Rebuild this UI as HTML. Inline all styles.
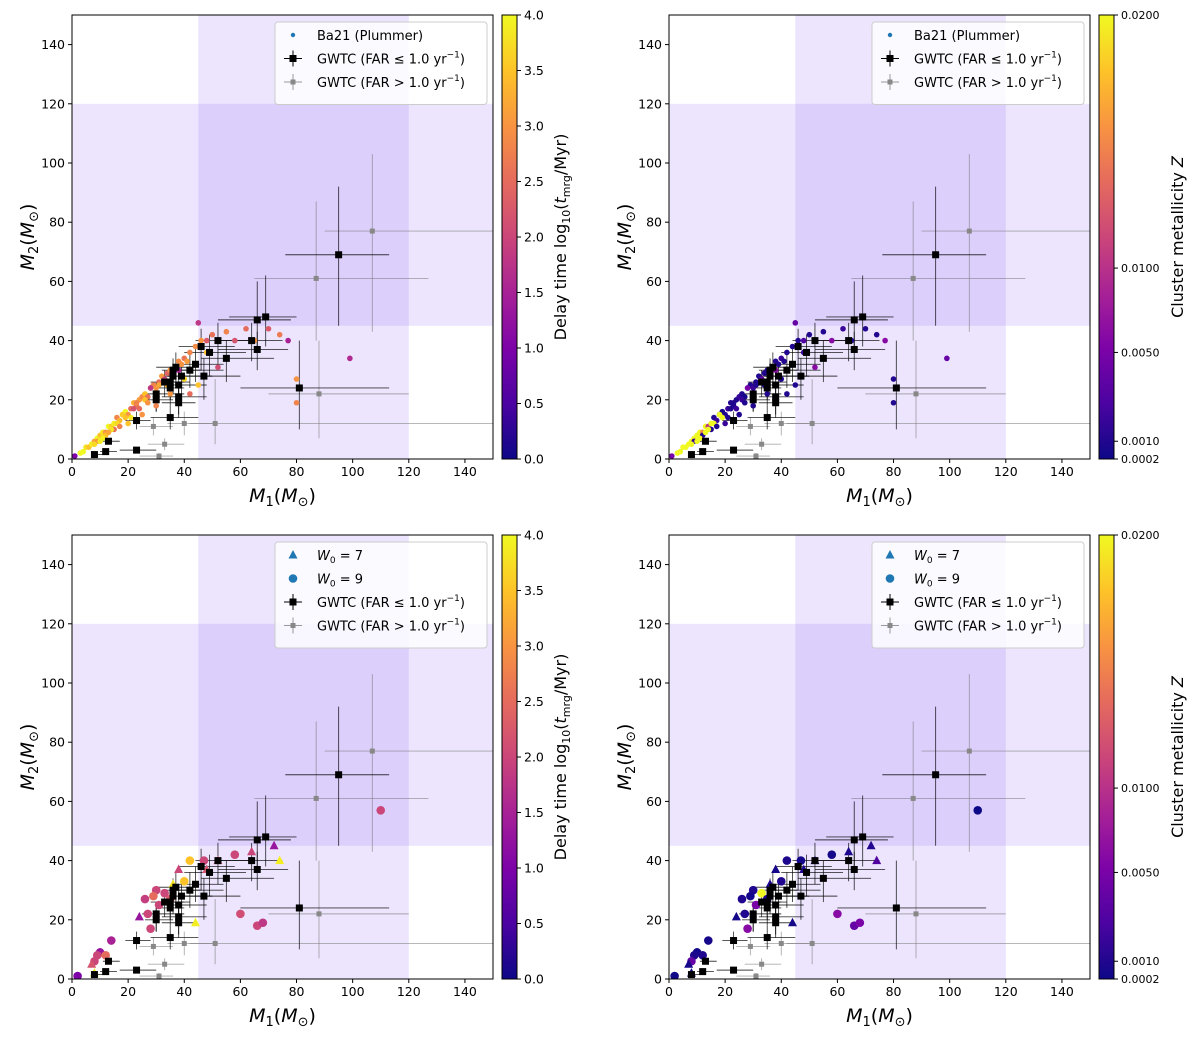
<!DOCTYPE html>
<html><head><meta charset="utf-8"><style>
body{margin:0;background:#fff}
svg{display:block;font-family:"DejaVu Sans","Liberation Sans",sans-serif}
</style></head><body>
<svg id="fig" width="1200" height="1039" viewBox="0 0 1200 1039" xmlns="http://www.w3.org/2000/svg"></svg>
<script>
// ---- data ----
const xTicks=[0,20,40,60,80,100,120,140];
const yTicks=[0,20,40,60,80,100,120,140];
const gwBlack=[[95,76,113,69,45,92],[69,56,80,48,38,62],[66,52,78,47,36,60],[81,60,113,24,10,40],[64,52,75,40,33,46],[66,52,77,37,30,43],[52,44,64,40,32,46],[46,38,58,38,30,44],[49,40,62,36,28,42],[55,46,72,34,26,40],[44,38,54,32,26,38],[47,38,60,28,20,34],[42,36,54,30,24,36],[39,34,50,28,22,33],[36,32,46,30,24,34],[35,30,42,26,20,30],[38,33,48,25,19,30],[33,28,40,26,21,30],[38,32,48,21,15,26],[38,32,44,19,14,24],[30,25,40,22,16,26],[37,30,44,31,25,36],[35,30,40,24,18,28],[23,19,28,13,10,16],[35,28,45,14,10,18],[30,26,36,20,16,24],[23,17,30,3,2,4],[12,10,16,2.5,2,3],[8,7,11,1.5,1,2],[13,11,17,6,5,7],[36,32,40,28,22,32]];
const gwGray=[[107,90,150,77,43,103],[87,65,127,61,40,87],[88,70,120,22,7,40],[51,42,150,12,5,27],[31,24,36,1,0.5,2],[33,27,40,5,3,7],[40,34,50,12,8,16],[29,24,36,11,8,14]];
const simTopM1=[3,4,5,6,7,8,9,10,11,12,13,14,15,16,17,18,19,20,21,22,23,24,25,26,27,28,29,30,31,32,33,34,35,36,37,38,39,40,41,42,44,46,48,45,58,65,77,99,80,80,52,45,42,35,30,25,20,15,12,9,48,38,33,28,22,18,14,1,40,36,31,26,23,19,16,11,8,50,55,62,70,74,10,13,17,21,24,27,30,34];
const simTopM2=[2,2.5,4,4,5,6,7,8,9,9,11,11,12,14,13,15,16,15,17,19,18,20,21,22,21,24,25,24,26,28,27,29,30,28,31,33,32,34,33,36,38,40,40,46,40,40,40,34,19,27,31,25,22,22,18,15,12,10,8,6,36,30,27,24,17,15,10,1,27,29,25,20,19,14,12,7,5,42,43,44,44,42,6,9,11,14,17,19,22,25];
const simTopT=[4,4,3.8,3.5,3.9,3.2,4,3.5,3.8,3,4,3.6,3.9,2.8,3.4,3.7,4,3,2.5,3.3,2.7,3.1,2.9,3.5,2.6,3.2,2.8,3,2.5,3.1,2.9,2.4,3,2.7,3.2,2.9,3,2.6,3.1,2.8,2.9,3,2.3,1.8,2.2,3,1.5,1.6,2.8,3,2.1,3.5,2.5,3,2.8,3,3.5,2.6,3.5,3,3.5,1.5,2,1.8,2.2,3.6,3.8,1,3.7,3,3.2,3.5,2.8,3.5,3.7,3.9,3.7,2.6,2.8,2.5,2.3,2.7,3.9,3.2,2.8,3.8,2.5,3,2.9,3.3];
const simTopZ=[.02,.02,.02,.02,.02,.02,.02,.02,.02,.015,.02,.01,.02,.001,.002,.001,.0005,.001,.002,.001,.0008,.001,.002,.001,.0006,.001,.001,.002,.001,.001,.003,.001,.001,.001,.0005,.001,.001,.002,.001,.001,.001,.001,.003,.004,.006,.001,.006,.004,.001,.001,.006,.001,.001,.001,.001,.001,.002,.001,.001,.002,.002,.006,.004,.005,.001,.02,.02,.005,.001,.001,.001,.002,.001,.02,.02,.02,.02,.001,.001,.002,.001,.001,.02,.02,.001,.001,.002,.001,.003,.001];
const simBotM1=[110,72,74,64,58,52,60,66,68,44,47,42,48,38,40,36,33,30,29,31,26,24,28,14,10,9,8,7,12,8,2,35,27];
const simBotM2=[57,45,40,43,42,40,22,18,19,19,40,40,37,37,33,32,29,30,28,25,27,21,17,13,9,8,6,5,8,2,1,27,22];
const simBotShape=['c','t','t','t','c','t','c','c','c','t','c','c','t','t','c','t','c','c','c','c','c','t','c','c','c','c','c','t','c','t','c','c','c'];
const simBotT=[2,1.3,3.9,2,2,2.2,2.1,2,1.8,3.9,2,3.5,2.2,2,3.5,3.8,2,2,2.5,2,1.9,1.3,2,1.5,1.3,2,2,2.2,2.5,3.9,1,2.3,2];
const simBotZ=[.0002,.001,.003,.0008,.0005,.001,.006,.004,.005,.0005,.0005,.0008,.001,.0006,.001,.001,.02,.001,.0005,.005,.001,.0005,.006,.0006,.0004,.0008,.004,.0006,.001,.0003,.0003,.001,.001];
const tTicks=[0,0.5,1,1.5,2,2.5,3,3.5,4];
const zTicks=[0.0002,0.001,0.005,0.01,0.02];
const zFrac=[0,0.04,0.24,0.43,1];

const NS="http://www.w3.org/2000/svg";
const svg=document.getElementById('fig');
function mk(tag,attrs,parent){const e=document.createElementNS(NS,tag);for(const k in attrs)e.setAttribute(k,attrs[k]);(parent||svg).appendChild(e);return e;}
const stops=['#0d0887','#4b03a1','#7d03a8','#a82296','#cb4679','#e56b5d','#f89441','#fdc328','#f0f921'];
function hex(c){return [1,3,5].map(i=>parseInt(c.substr(i,2),16));}
function plasma(f){f=Math.max(0,Math.min(1,f));const p=f*8,i=Math.min(7,Math.floor(p)),t=p-i;const a=hex(stops[i]),b=hex(stops[i+1]);return 'rgb('+a.map((v,j)=>Math.round(v+(b[j]-v)*t)).join(',')+')';}
function zNorm(z){for(let i=0;i<zTicks.length-1;i++){if(z<=zTicks[i+1])return zFrac[i]+(zFrac[i+1]-zFrac[i])*(z-zTicks[i])/(zTicks[i+1]-zTicks[i]);}return 1;}

const panels=[{L:72,T:15,cb:'t',sim:'top'},{L:669,T:15,cb:'z',sim:'top'},{L:72,T:535,cb:'t',sim:'bot'},{L:669,T:535,cb:'z',sim:'bot'}];
const W=421,H=444;
panels.forEach((P,pi)=>{
  const g=mk('g',{});
  
  
  const sx=v=>P.L+v/150*W, sy=v=>P.T+H-v/150*H;
  const clip='c'+pi;
  const cp=mk('clipPath',{id:clip},g);mk('rect',{x:P.L,y:P.T,width:W,height:H},cp);
  const pg=mk('g',{'clip-path':'url(#'+clip+')'},g);
  const r1=mk('rect',{x:sx(45),y:P.T,width:sx(120)-sx(45),height:H,fill:'#8a5cf0','fill-opacity':0.16},pg);
  
  const r2=mk('rect',{x:P.L,y:sy(120),width:W,height:sy(45)-sy(120),fill:'#8a5cf0','fill-opacity':0.16},pg);
  
  const drawGW=(arr,col,op)=>{arr.forEach(d=>{
    mk('line',{x1:sx(d[1]),x2:sx(d[2]),y1:sy(d[3]),y2:sy(d[3]),stroke:col,'stroke-width':0.9,'stroke-opacity':op},pg);
    mk('line',{x1:sx(d[0]),x2:sx(d[0]),y1:sy(d[4]),y2:sy(d[5]),stroke:col,'stroke-width':0.9,'stroke-opacity':op},pg);
  });};
  drawGW(gwGray,'#777',0.6);
  drawGW(gwBlack,'#000',0.75);
  if(P.sim==='top'){
    simTopM1.forEach((m,i)=>{const c=P.cb==='t'?plasma(simTopT[i]/4):plasma(zNorm(simTopZ[i]));
      const e=mk('circle',{cx:sx(m),cy:sy(simTopM2[i]),r:2.8,fill:c},pg);
      });
  } else {
    simBotM1.forEach((m,i)=>{const c=P.cb==='t'?plasma(simBotT[i]/4):plasma(zNorm(simBotZ[i]));
      const x=sx(m),y=sy(simBotM2[i]);let e;
      if(simBotShape[i]==='t')e=mk('polygon',{points:`${x},${y-5} ${x-4.5},${y+3.5} ${x+4.5},${y+3.5}`,fill:c},pg);
      else e=mk('circle',{cx:x,cy:y,r:4.3,fill:c},pg);
      });
  }
  gwGray.forEach(d=>{const e=mk('rect',{x:sx(d[0])-2.5,y:sy(d[3])-2.5,width:5,height:5,fill:'#888'},pg);
    });
  gwBlack.forEach(d=>{const e=mk('rect',{x:sx(d[0])-3.5,y:sy(d[3])-3.5,width:7,height:7,fill:'#000'},pg);
    });
  mk('rect',{x:P.L,y:P.T,width:W,height:H,fill:'none',stroke:'#000','stroke-width':1},g);
  xTicks.forEach(t=>{mk('line',{x1:sx(t),x2:sx(t),y1:P.T+H,y2:P.T+H+4,stroke:'#000'},g);
    const tx=mk('text',{x:sx(t),y:P.T+H+17,'font-size':12.5,'text-anchor':'middle'},g);tx.textContent=t;});
  yTicks.forEach(t=>{mk('line',{x1:P.L-4,x2:P.L,y1:sy(t),y2:sy(t),stroke:'#000'},g);
    const tx=mk('text',{x:P.L-7,y:sy(t)+4.5,'font-size':12.5,'text-anchor':'end'},g);tx.textContent=t;});
  const xl=mk('text',{x:P.L+W/2,y:P.T+H+43,'font-size':19,'text-anchor':'middle'},g);
  xl.innerHTML='<tspan font-style="italic">M</tspan><tspan font-size="13" dy="4">1</tspan><tspan dy="-4">(</tspan><tspan font-style="italic">M</tspan><tspan font-size="13" dy="4">⊙</tspan><tspan dy="-4">)</tspan>';
  
  const yl=mk('text',{transform:`translate(${P.L-38},${P.T+H/2}) rotate(-90)`,'font-size':19,'text-anchor':'middle'},g);
  yl.innerHTML='<tspan font-style="italic">M</tspan><tspan font-size="13" dy="4">2</tspan><tspan dy="-4">(</tspan><tspan font-style="italic">M</tspan><tspan font-size="13" dy="4">⊙</tspan><tspan dy="-4">)</tspan>';
  
  const lg=mk('g',{},g);
  
  const rows=P.sim==='top'?['ba','gb','gg']:['w7','w9','gb','gg'];
  const lx=P.L+203, ly=P.T+7, lh=12+rows.length*23.5;
  mk('rect',{x:lx,y:ly,width:212,height:lh,rx:3,fill:'#fff','fill-opacity':0.8,stroke:'#ccc'},lg);
  rows.forEach((r,i)=>{const cy=ly+13+i*23.5, mx=lx+18;
    const tx=mk('text',{x:lx+42,y:cy+5,'font-size':13},lg);
    if(r==='ba'){mk('circle',{cx:mx,cy:cy,r:2.2,fill:'#1f77b4'},lg);tx.textContent='Ba21 (Plummer)';}
    if(r==='w7'){mk('polygon',{points:`${mx},${cy-5} ${mx-4.5},${cy+3.5} ${mx+4.5},${cy+3.5}`,fill:'#1f77b4'},lg);tx.innerHTML='<tspan font-style="italic">W</tspan><tspan font-size="9" dy="3">0</tspan><tspan dy="-3"> = 7</tspan>';}
    if(r==='w9'){mk('circle',{cx:mx,cy:cy,r:4.3,fill:'#1f77b4'},lg);tx.innerHTML='<tspan font-style="italic">W</tspan><tspan font-size="9" dy="3">0</tspan><tspan dy="-3"> = 9</tspan>';}
    if(r==='gb'){mk('line',{x1:mx-9,x2:mx+9,y1:cy,y2:cy,stroke:'#000'},lg);mk('line',{x1:mx,x2:mx,y1:cy-8,y2:cy+8,stroke:'#000'},lg);mk('rect',{x:mx-3.5,y:cy-3.5,width:7,height:7},lg);tx.innerHTML='GWTC (FAR ≤ 1.0 yr<tspan font-size="9" dy="-6">−1</tspan><tspan dy="6">)</tspan>';}
    if(r==='gg'){mk('line',{x1:mx-9,x2:mx+9,y1:cy,y2:cy,stroke:'#999'},lg);mk('line',{x1:mx,x2:mx,y1:cy-8,y2:cy+8,stroke:'#999'},lg);mk('rect',{x:mx-2.5,y:cy-2.5,width:5,height:5,fill:'#888'},lg);tx.innerHTML='GWTC (FAR &gt; 1.0 yr<tspan font-size="9" dy="-6">−1</tspan><tspan dy="6">)</tspan>';}
  });
  const cbx=P.L+W+9, cg=mk('g',{},g);
  
  const gid='gr'+pi, gr=mk('linearGradient',{id:gid,x1:0,y1:1,x2:0,y2:0},cg);
  for(let k=0;k<=8;k++)mk('stop',{offset:k/8,'stop-color':stops[k]},gr);
  mk('rect',{x:cbx,y:P.T,width:15,height:H,fill:'url(#'+gid+')',stroke:'#000'},cg);
  if(P.cb==='t'){
    tTicks.forEach(t=>{const y=P.T+H-t/4*H;mk('line',{x1:cbx+15,x2:cbx+19,y1:y,y2:y,stroke:'#000'},cg);
      const tx=mk('text',{x:cbx+22,y:y+4.5,'font-size':12.5},cg);tx.textContent=t.toFixed(1);});
    const l=mk('text',{transform:`translate(${cbx+64},${P.T+H/2}) rotate(-90)`,'font-size':16,'text-anchor':'middle'},cg);
    l.innerHTML='Delay time  log<tspan font-size="11" dy="4">10</tspan><tspan dy="-4">(</tspan><tspan font-style="italic">t</tspan><tspan font-size="11" dy="4">mrg</tspan><tspan dy="-4">/Myr)</tspan>';
  } else {
    zTicks.forEach((t,i)=>{const y=P.T+H-zFrac[i]*H;mk('line',{x1:cbx+15,x2:cbx+19,y1:y,y2:y,stroke:'#000'},cg);
      const tx=mk('text',{x:cbx+22,y:y+4,'font-size':11},cg);tx.textContent=t.toFixed(4);});
    const l=mk('text',{transform:`translate(${cbx+84},${P.T+H/2}) rotate(-90)`,'font-size':16,'text-anchor':'middle'},cg);
    l.innerHTML='Cluster metallicity   <tspan font-style="italic">Z</tspan>';
  }
});
</script>
</body></html>
